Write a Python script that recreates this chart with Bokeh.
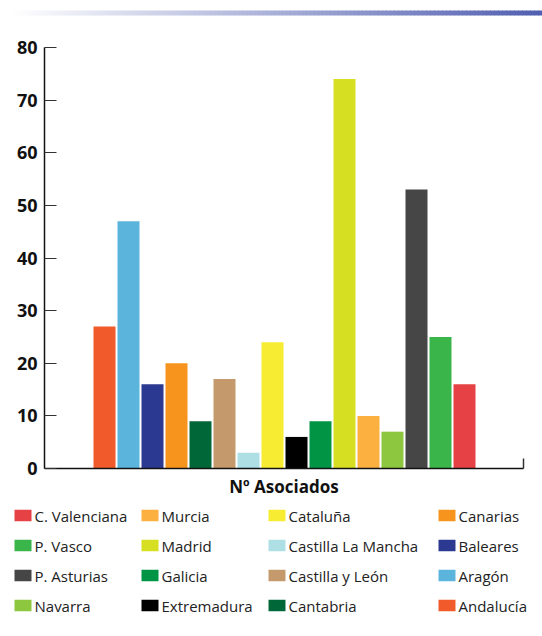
from bokeh.plotting import figure
from bokeh.layouts import column
from bokeh.models import Range1d, FixedTicker, ColumnDataSource
from bokeh.core.properties import value
from bokeh.embed import file_html
from bokeh.resources import INLINE

# ---- data ----
regions = ["Andalucía", "Aragón", "Baleares", "Canarias", "Cantabria",
           "Castilla y León", "Castilla La Mancha", "Cataluña", "Extremadura",
           "Galicia", "Madrid", "Murcia", "Navarra", "P. Asturias", "P. Vasco",
           "C. Valenciana"]
asociados = [27, 47, 16, 20, 9, 17, 3, 24, 6, 9, 74, 10, 7, 53, 25, 16]
colors = ["#f15a2b", "#5ab4dc", "#2b3990", "#f7941e", "#006838",
          "#c49a6c", "#addfe5", "#f7ec31", "#000000",
          "#009444", "#d7df23", "#fbb040", "#8dc63f", "#464646", "#39b54a",
          "#e64245"]
y_ticks = [0, 10, 20, 30, 40, 50, 60, 70, 80]
x_label = "Nº Asociados"

FONT = "Open Sans"
W = 542
GH, MH, LH = 18, 484, 134
PITCH = 24.0          # pixels per category
X0PX = 104.0          # pixel centre of first category
XR = (-X0PX / PITCH, (W - X0PX) / PITCH)
AX_L = (44 - X0PX) / PITCH
AX_R = (523 - X0PX) / PITCH
# vertical: value 80 at 29px, value 0 at 450px inside the main figure
YPX = (450 - 29) / 80.0
YR = (-(MH - 450) / YPX, 80 + 29 / YPX)

def clean(fig):
    fig.outline_line_color = None
    fig.xgrid.visible = False
    fig.ygrid.visible = False

# ---- gradient strip ----
grad = figure(width=W, height=GH, output_backend="svg", toolbar_location=None,
              x_range=Range1d(0, W), y_range=Range1d(GH, 0),
              x_axis_type=None, y_axis_type=None, min_border=0)
clean(grad)
gx0, gx1 = 10, W
c0 = (255, 255, 255)
c1 = (80, 94, 176)
lefts, rights, gcols = [], [], []
step = 4
for px in range(gx0, gx1, step):
    t = (px - gx0) / (gx1 - gx0)
    gcols.append("#%02x%02x%02x" % tuple(int(c0[j] + (c1[j] - c0[j]) * t) for j in range(3)))
    lefts.append(px)
    rights.append(px + step + 0.5)
grad.quad(left=lefts, right=rights, top=10, bottom=15, color=gcols, line_color=None)

# ---- main chart ----
p = figure(width=W, height=MH, output_backend="svg", toolbar_location=None,
           x_range=Range1d(*XR), y_range=Range1d(*YR), min_border=0)
clean(p)
src = ColumnDataSource(dict(x=list(range(len(regions))), top=asociados,
                            color=colors, name=regions))
p.vbar(x="x", top="top", width=22 / PITCH, color="color", line_color=None, source=src)

ya = p.yaxis[0]
ya.fixed_location = AX_L
ya.bounds = (0, 80)
ya.ticker = FixedTicker(ticks=y_ticks)
ya.major_tick_in = 12
ya.major_tick_out = 0
ya.minor_tick_line_color = None
ya.axis_line_width = 1.5
ya.axis_line_color = "#111111"
ya.major_tick_line_color = "#333333"
ya.major_label_standoff = 7
ya.major_label_text_font = FONT
ya.major_label_text_font_style = "bold"
ya.major_label_text_font_size = "18px"
ya.major_label_text_color = "#111111"

xa = p.xaxis[0]
xa.fixed_location = 0
xa.bounds = (AX_L, AX_R)
xa.ticker = FixedTicker(ticks=[AX_R])
xa.major_label_overrides = {AX_R: ""}
xa.major_label_text_font_size = "0px"
xa.major_label_standoff = 0
xa.major_tick_in = 10
xa.major_tick_out = 0
xa.major_tick_line_color = "#333333"
xa.major_tick_line_width = 1.5
xa.minor_tick_line_color = None
xa.axis_line_width = 1.5
xa.axis_line_color = "#111111"
xa.axis_label = x_label
xa.axis_label_text_font = FONT
xa.axis_label_text_font_style = "bold"
xa.axis_label_text_font_size = "17px"
xa.axis_label_text_color = "#111111"
xa.axis_label_standoff = 6

# ---- legend (4 columns x 4 rows, reversed order, column-major) ----
leg = figure(width=W, height=LH, output_backend="svg", toolbar_location=None,
             x_range=Range1d(0, W), y_range=Range1d(LH, 0),
             x_axis_type=None, y_axis_type=None, min_border=0)
clean(leg)
top_px = GH + MH
col_sw = [14, 141, 268, 438]
row_base = [521.7, 551.7, 581.7, 611.7]
order = list(reversed(range(len(regions))))
sx, sy, tx, ty, lt, lc = [], [], [], [], [], []
for k, idx in enumerate(order):
    c, r = k // 4, k % 4
    b = row_base[r] - top_px
    sx.append(col_sw[c] + 8.5)
    sy.append(b - 6.7)
    tx.append(col_sw[c] + 20)
    ty.append(b - 6)
    lt.append(regions[idx])
    lc.append(colors[idx])
leg.rect(x=sx, y=sy, width=17, height=11.5, color=lc, line_color=None)
leg.text(x=tx, y=ty, text=lt, text_font=value(FONT), text_font_size="15px",
         text_baseline="alphabetic", text_align="left", text_color="#222222")

layout = column(grad, p, leg, spacing=0)
open("out.html", "w").write(file_html(layout, INLINE))
